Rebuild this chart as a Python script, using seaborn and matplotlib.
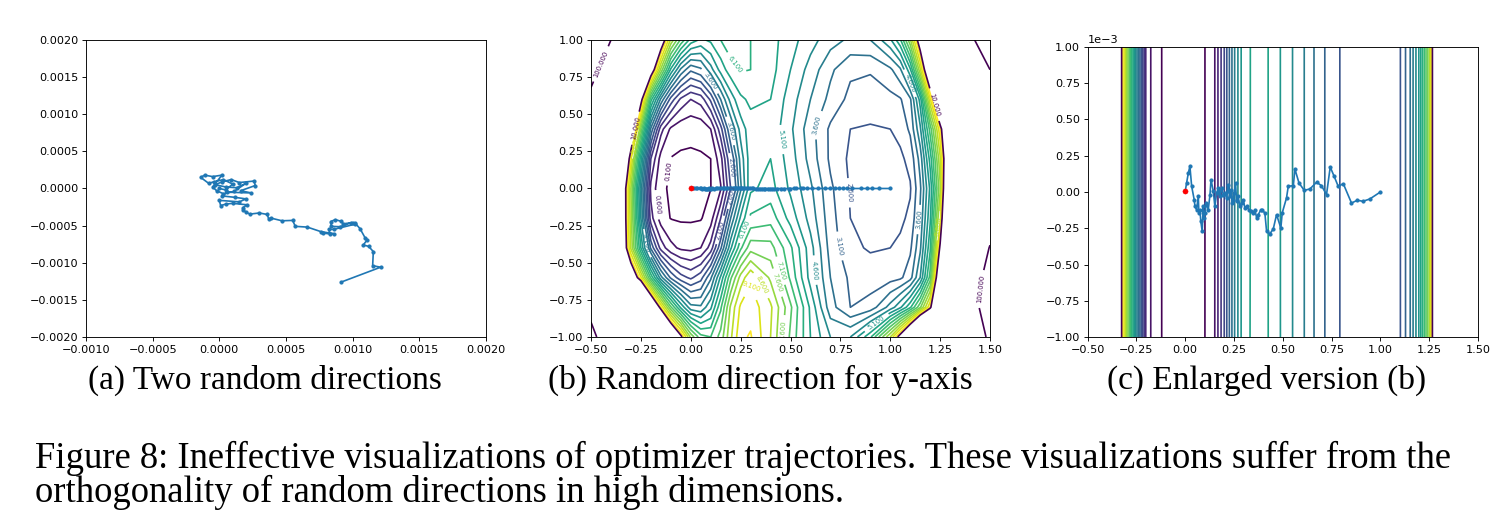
import numpy as np
import matplotlib
matplotlib.use("Agg")
import matplotlib.pyplot as plt
import seaborn as sns

# (a) trajectory projected on two random directions (units of 1e-4)
rand_x_e4 = [9.15, 12.1, 11.5, 11.55, 11.2, 10.8, 11.1, 10.95, 10.55, 10.2,
             10.0, 9.3, 9.1, 8.7, 8.35, 8.4, 9.05, 9.9, 10.2, 8.6,
             8.2, 8.3, 7.8, 8.6, 7.6, 6.6, 5.7, 5.5, 4.7, 3.9,
             3.7, 3.6, 3.0, 2.3, 2.0, 1.8, 1.75, 2.1, 1.0, 0.5,
             0.1, 0.0, 1.5, 2.0, 1.2, 0.2, 0.6, 2.4, 1.6, 2.7,
             2.6, 1.5, 0.9, 0.2, -0.3, 0.5, 1.3, 2.0, 1.1, 0.3,
             -0.2, -0.5, 0.2, -0.5, -1.1, -1.4, -0.8, -0.4, 0.3, 1.0,
             0.5, 0.0]
rand_y_e4 = [-12.6, -10.6, -10.4, -8.5, -7.8, -7.6, -6.9, -6.7, -5.4, -4.7,
             -4.6, -4.75, -4.4, -4.2, -4.45, -5.1, -5.15, -4.6, -4.8, -5.5,
             -5.5, -6.1, -6.0, -6.1, -5.8, -5.2, -5.1, -4.3, -4.35, -4.0,
             -4.1, -3.5, -3.3, -3.45, -3.2, -2.9, -2.6, -2.2, -2.0, -2.1,
             -2.3, -1.6, -1.8, -1.4, -1.2, -1.0, -0.5, -0.6, -0.3, 0.4,
             1.0, 0.8, 1.2, 0.9, 0.5, 0.2, 0.1, 0.7, -0.4, -0.7,
             -0.3, 0.2, 1.8, 1.6, 1.8, 1.5, 0.7, 0.9, 1.2, 0.6,
             -0.2, 0.0]

# (b)/(c) trajectory: x along the chosen direction, y in units of 1e-3
traj_x = [1.0, 0.946, 0.911, 0.882, 0.852, 0.81, 0.784, 0.763, 0.743, 0.724,
          0.698, 0.673, 0.639, 0.61, 0.583, 0.562, 0.554, 0.528, 0.519, 0.497,
          0.49, 0.468, 0.451, 0.434, 0.417, 0.408, 0.395, 0.388, 0.374, 0.366,
          0.357, 0.348, 0.337, 0.326, 0.314, 0.306, 0.297, 0.289, 0.28, 0.271,
          0.263, 0.258, 0.251, 0.246, 0.241, 0.234, 0.229, 0.22, 0.217, 0.212,
          0.203, 0.195, 0.186, 0.178, 0.169, 0.166, 0.161, 0.152, 0.144, 0.132,
          0.127, 0.118, 0.109, 0.101, 0.097, 0.092, 0.087, 0.08, 0.075, 0.07,
          0.067, 0.058, 0.05, 0.046, 0.033, 0.024, 0.016, 0.007, 0.0]
traj_y_e3 = [0.0, -0.048, -0.064, -0.057, -0.076, 0.057, 0.039, 0.108, 0.172, -0.018,
             0.044, 0.067, 0.021, 0.011, 0.062, 0.158, 0.044, 0.039, -0.041, -0.144,
             -0.248, -0.156, -0.255, -0.287, -0.271, -0.144, -0.126, -0.122, -0.156, -0.179,
             -0.122, -0.144, -0.133, -0.122, -0.099, -0.11, -0.053, -0.076, -0.099, -0.03,
             -0.064, 0.062, -0.007, -0.053, -0.076, 0.016, -0.03, 0.05, 0.005, -0.041,
             -0.007, -0.018, 0.028, -0.03, 0.028, 0.005, -0.007, -0.099, 0.005, 0.085,
             -0.018, -0.122, -0.076, -0.144, -0.179, -0.099, -0.271, -0.202, -0.122, -0.144,
             -0.03, -0.122, -0.099, -0.053, 0.039, 0.177, 0.131, 0.062, 0.005]

# loss surface: rows from y=1 down to y=-1
grid_x = [-0.5, -0.4, -0.33, -0.3, -0.25, -0.2, -0.15, -0.1, -0.05, 0.0,
          0.05, 0.1, 0.15, 0.2, 0.25, 0.3, 0.4, 0.5, 0.6, 0.7,
          0.8, 0.9, 1.0, 1.05, 1.1, 1.15, 1.2, 1.25, 1.3, 1.4, 1.5]
grid_y = [1.0, 0.8, 0.6, 0.4, 0.2, 0.0, -0.2, -0.4, -0.6, -0.8, -1.0]
loss_rows = [
    [160, 100, 55, 40, 25, 16, 11, 8.5, 7.0, 5.9, 5.5, 5.7, 6.1, 6.4, 6.3, 6.1,
     5.8, 5.3, 4.8, 4.3, 4.0, 4.1, 5.0, 6.0, 8.0, 10.8, 16, 22, 30, 85, 150],
    [115, 75, 40, 28, 17, 11, 8.0, 5.5, 4.0, 3.2, 3.5, 4.4, 5.3, 5.9, 6.15, 6.1,
     5.8, 5.1, 4.4, 3.7, 3.2, 3.15, 3.5, 4.0, 5.5, 8.5, 12, 18, 25, 60, 100],
    [90, 50, 24, 17, 10.5, 6.3, 4.0, 2.4, 1.5, 1.1, 1.3, 2.2, 3.6, 4.8, 5.5, 5.7,
     5.6, 4.85, 4.1, 3.45, 2.95, 2.85, 2.95, 3.05, 3.5, 5.3, 9.0, 13, 20, 45, 80],
    [75, 35, 17, 12, 7.5, 3.5, 1.3, 0.5, 0.25, 0.2, 0.25, 0.6, 1.9, 3.6, 4.8, 5.4,
     5.45, 4.7, 3.8, 3.0, 2.6, 2.55, 2.6, 2.75, 3.2, 4.5, 6.8, 9.5, 13, 35, 70],
    [65, 28, 12, 9.2, 5.3, 1.6, 0.4, 0.08, 0.04, 0.04, 0.05, 0.1, 0.9, 2.6, 4.3, 5.4,
     5.6, 4.85, 3.9, 3.0, 2.5, 2.42, 2.45, 2.5, 2.75, 3.8, 5.8, 8.5, 12.5, 32, 62],
    [60, 25, 10.3, 8.1, 4.3, 0.95, 0.2, 0.03, 0.02, 0.02, 0.03, 0.09, 0.55, 2.1, 4.0, 5.5,
     5.8, 5.0, 4.2, 3.2, 2.55, 2.42, 2.42, 2.45, 2.55, 3.5, 5.2, 8.0, 14, 35, 65],
    [70, 25, 10.3, 8.3, 4.6, 1.3, 0.35, 0.08, 0.04, 0.04, 0.06, 0.35, 1.6, 3.6, 5.2, 6.2,
     6.4, 5.4, 4.4, 3.3, 2.6, 2.45, 2.45, 2.5, 2.7, 3.7, 5.5, 8.8, 15, 45, 80],
    [80, 27, 10.5, 8.5, 5.6, 3.0, 1.4, 0.75, 0.5, 0.45, 0.6, 1.3, 3.0, 5.0, 6.5, 7.4,
     7.3, 6.2, 4.8, 3.4, 2.7, 2.55, 2.6, 2.7, 3.0, 4.0, 6.0, 10.2, 18, 60, 102],
    [85, 35, 16, 11.5, 9.2, 6.5, 4.3, 3.0, 2.3, 2.0, 2.4, 3.5, 5.2, 7.0, 8.3, 9.0,
     8.0, 6.5, 4.9, 3.6, 3.0, 2.85, 2.9, 3.0, 3.4, 4.6, 6.8, 12, 22, 70, 120],
    [90, 50, 28, 23, 17, 12.5, 9.6, 7.2, 5.5, 4.3, 4.2, 5.0, 6.5, 8.2, 9.2, 9.4,
     8.7, 7.2, 5.5, 3.8, 3.1, 3.3, 4.3, 5.0, 6.0, 7.5, 9.6, 15, 28, 75, 130],
    [110, 75, 50, 40, 30, 22, 16, 12.5, 10.3, 8.0, 6.8, 6.6, 7.3, 8.5, 9.5, 9.65,
     8.6, 7.0, 5.6, 4.6, 4.6, 6.0, 8.6, 10.5, 13, 17, 22, 30, 45, 80, 105],
]

subcaptions = ["(a) Two random directions", "(b) Random direction for y-axis",
               "(c) Enlarged version (b)"]
caption_lines = ["Figure 8: Ineffective visualizations of optimizer trajectories. "
                 "These visualizations suffer from the",
                 "orthogonality of random directions in high dimensions."]

# where the contour labels sit in panel (b)
label_spots_low = [(-0.12, 0.12), (-0.17, -0.11), (0.205, 0.39), (0.205, 0.14),
                   (0.20, -0.04), (0.15, -0.28), (0.105, 0.73), (0.22, 0.83),
                   (0.456, 0.33), (0.606, 0.44), (0.78, -0.03), (0.73, -0.39),
                   (0.62, -0.55), (0.46, -0.55), (0.42, -0.64), (0.37, -0.64),
                   (0.30, -0.66), (0.28, -0.28), (1.10, 0.71), (1.15, -0.21),
                   (1.24, -0.25), (0.93, -0.90), (-0.22, -0.37), (-0.28, 0.30),
                   (0.45, -0.95)]
label_spots_high = [(-0.47, 0.85), (-0.29, 0.41), (1.21, 0.56), (1.48, -0.68)]

plt.rcParams.update({
    "font.size": 8.1,
    "axes.linewidth": 0.65,
    "xtick.major.width": 0.65, "ytick.major.width": 0.65,
    "xtick.major.size": 2.8, "ytick.major.size": 2.8,
    "xtick.major.pad": 2.8, "ytick.major.pad": 2.8,
})

fig = plt.figure(figsize=(15, 5.24), dpi=100)
ax_a = fig.add_axes([0.0573, 0.3569, 0.2667, 0.5668])
ax_b = fig.add_axes([0.3940, 0.3569, 0.2660, 0.5668])
ax_c = fig.add_axes([0.7251, 0.3563, 0.2602, 0.5546])

line_kw = dict(sort=False, estimator=None, marker=".", markersize=4.5,
               markeredgecolor="C0", color="C0", linewidth=1.2)

# (a)
sns.lineplot(x=np.array(rand_x_e4) * 1e-4, y=np.array(rand_y_e4) * 1e-4,
             ax=ax_a, **line_kw)
ax_a.set_xlim(-0.001, 0.002)
ax_a.set_ylim(-0.002, 0.002)
ax_a.set_xticks(np.arange(-0.001, 0.00201, 0.0005))
ax_a.set_yticks(np.arange(-0.002, 0.00201, 0.0005))

# (b) and (c) share the surface and the trajectory
X = np.array(grid_x)
Y = np.array(grid_y)[::-1]
Z = np.array(loss_rows)[::-1]
ty = np.array(traj_y_e3) * 1e-3

for ax in (ax_b, ax_c):
    cs1 = ax.contour(X, Y, Z, levels=np.arange(0.1, 10, 0.5), cmap="viridis",
                     linewidths=1.2)
    cs2 = ax.contour(X, Y, Z, levels=np.logspace(1, 8, num=8), cmap="viridis",
                     linewidths=1.2)
    if ax is ax_b:
        ax.clabel(cs1, inline=True, fontsize=4.9, fmt="%1.3f", manual=label_spots_low)
        ax.clabel(cs2, inline=True, fontsize=4.9, fmt="%1.3f", manual=label_spots_high)
    sns.lineplot(x=traj_x, y=ty, ax=ax, **line_kw)
    sns.scatterplot(x=[traj_x[-1]], y=[ty[-1]], color="red", s=14,
                    edgecolor="red", zorder=5, ax=ax)
    ax.set_xlim(-0.5, 1.5)
    ax.set_xticks(np.arange(-0.5, 1.51, 0.25))

ax_b.set_ylim(-1, 1)
ax_b.set_yticks(np.arange(-1, 1.01, 0.25))
ax_c.set_ylim(-1e-3, 1e-3)
ax_c.set_yticks(np.arange(-1e-3, 1.01e-3, 0.25e-3))
ax_c.ticklabel_format(axis="y", style="sci", scilimits=(0, 0))

serif = ["Liberation Serif", "DejaVu Serif"]
for cx, txt in zip([0.1767, 0.5067, 0.8447], subcaptions):
    fig.text(cx, 0.2748, txt, ha="center", va="center", family=serif, fontsize=24)
fig.text(0.0233, 0.126, caption_lines[0], ha="left", va="center", family=serif,
         fontsize=26.4)
fig.text(0.0233, 0.061, caption_lines[1], ha="left", va="center", family=serif,
         fontsize=26.4)

fig.savefig("out.png", dpi=100)
plt.close(fig)
